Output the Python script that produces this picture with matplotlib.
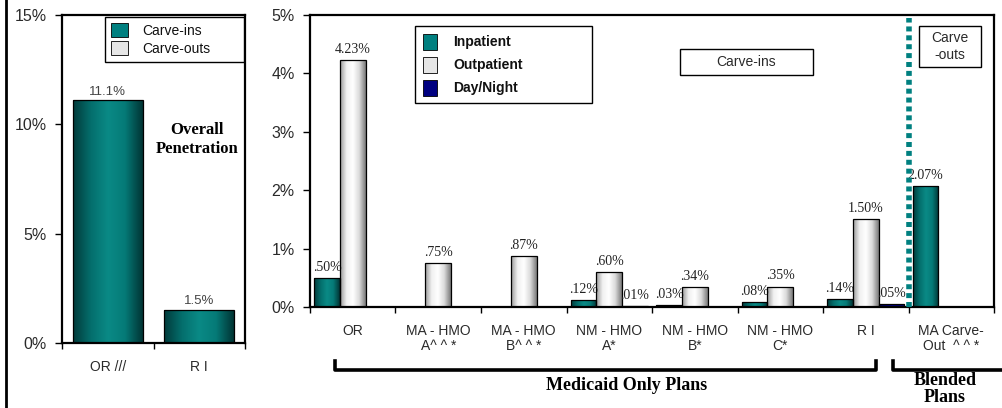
import numpy as np
import matplotlib
matplotlib.use("Agg")
from matplotlib import pyplot as plt
from matplotlib.colors import LinearSegmentedColormap
from matplotlib.patches import Patch, Rectangle
from matplotlib.lines import Line2D

# ---- data ----
overall_cats = ["OR ///", "R I"]
overall_vals = [11.1, 1.5]

plan_cats = ["OR", "MA - HMO\nA^ ^ *", "MA - HMO\nB^ ^ *", "NM - HMO\nA*",
             "NM - HMO\nB*", "NM - HMO\nC*", "R I", "MA Carve-\nOut  ^ ^ *"]
inpatient = [0.50, 0, 0, 0.12, 0.03, 0.08, 0.14, 2.07]
outpatient = [4.23, 0.75, 0.87, 0.60, 0.34, 0.35, 1.50, 0]
daynight = [0, 0, 0, 0.01, 0, 0, 0.05, 0]

SANS = "Liberation Sans"
SERIF = "Liberation Serif"
TXT = "#2a2a2a"

teal_cm = LinearSegmentedColormap.from_list(
    "teal", ["#013c3c", "#046e6c", "#0a8a86", "#057a77", "#013535"])
white_cm = LinearSegmentedColormap.from_list(
    "white", ["#9a9a9a", "#f0f0f0", "#ffffff", "#dadada", "#7a7a7a"])
navy_cm = LinearSegmentedColormap.from_list(
    "navy", ["#00004a", "#000090", "#00006a"])
grad = np.linspace(0, 1, 64).reshape(1, -1)


def shaded_bars(ax, x, vals, width, cmap, face):
    bars = ax.bar(x, vals, width, color=face, zorder=2)
    for b in bars:
        if b.get_height() <= 0:
            continue
        x0, y0, w, h = b.get_x(), b.get_y(), b.get_width(), b.get_height()
        im = ax.imshow(grad, extent=(x0, x0 + w, y0, y0 + h), cmap=cmap,
                       aspect="auto", origin="lower", zorder=2.5)
        im.set_clip_path(b)
        ax.add_patch(Rectangle((x0, y0), w, h, fill=False, ec="black",
                               lw=0.9, zorder=3))
    return bars


def fmt_plan(v):
    s = "%.2f%%" % v
    return s[1:] if s.startswith("0.") else s


def style_axes(ax, ncat):
    for sp in ax.spines.values():
        sp.set_linewidth(1.6)
        sp.set_color("black")
    ax.set_xlim(-0.5, ncat - 0.5)
    ax.set_xticks(np.arange(ncat))
    ax.set_xticks(np.arange(ncat + 1) - 0.5, minor=True)
    ax.tick_params(axis="x", which="major", length=0, pad=12)
    ax.tick_params(axis="x", which="minor", length=4, width=1, direction="out")
    ax.tick_params(axis="y", length=5, width=1, direction="out",
                   labelsize=11.5, labelcolor=TXT, pad=6)


def fx(px):
    return px / 1003


def fy(py):
    return 1 - py / 408


fig = plt.figure(figsize=(10.03, 4.08), dpi=100)

# ---- left panel: overall penetration ----
axl = fig.add_axes([62 / 1003, 1 - 343 / 408, 183 / 1003, 328 / 408])
xl = np.arange(len(overall_cats))
shaded_bars(axl, xl, overall_vals, 0.76, teal_cm, "#008080")
for xi, v in zip(xl, overall_vals):
    axl.annotate("%.1f%%" % v, (xi, v), xytext=(0, 2), textcoords="offset points",
                 ha="center", va="bottom", fontsize=9.5, family=SANS, color="#444444")
style_axes(axl, len(overall_cats))
axl.set_ylim(0, 15)
axl.set_yticks([0, 5, 10, 15])
axl.set_yticklabels(["0%", "5%", "10%", "15%"], family=SANS)
axl.set_xticklabels(overall_cats, family=SANS, fontsize=10, color=TXT)
axl.text(0.74, 0.62, "Overall\nPenetration", transform=axl.transAxes, ha="center",
         va="center", family=SERIF, fontweight="bold", fontsize=12, linespacing=1.2)
lg = axl.legend(handles=[Patch(fc="#008080", ec="black", lw=0.6, label="Carve-ins"),
                         Patch(fc="#e6e6e6", ec="black", lw=0.6, label="Carve-outs")],
                loc="upper left", bbox_to_anchor=(0.235, 0.86, 0.76, 0.135),
                mode="expand", fancybox=False,
                edgecolor="black", framealpha=1, prop={"family": SANS, "size": 10},
                handlelength=1.2, handleheight=1.2, borderpad=0.45, labelspacing=0.25,
                handletextpad=1.0, borderaxespad=0)
lg.get_frame().set_linewidth(1.0)
for t in lg.get_texts():
    t.set_color("#111111")

# ---- right panel: plans ----
axr = fig.add_axes([310 / 1003, 1 - 307 / 408, 684 / 1003, 292 / 408])
xr = np.arange(len(plan_cats))
w = 0.3
series = [(inpatient, -w, teal_cm, "#008080"),
          (outpatient, 0, white_cm, "#eeeeee"),
          (daynight, w, navy_cm, "#000080")]
for vals, off, cm, face in series:
    shaded_bars(axr, xr + off, vals, w, cm, face)
    for xi, v in zip(xr, vals):
        if v > 0:
            axr.annotate(fmt_plan(v), (xi + off, v), xytext=(0, 3),
                         textcoords="offset points", ha="center", va="bottom",
                         fontsize=10, family=SERIF, color="#222222")
style_axes(axr, len(plan_cats))
axr.set_ylim(0, 5)
axr.set_yticks([0, 1, 2, 3, 4, 5])
axr.set_yticklabels(["0%", "1%", "2%", "3%", "4%", "5%"], family=SANS)
axr.set_xticklabels(plan_cats, family=SANS, fontsize=10, color=TXT, linespacing=1.15)
axr.axvline(len(plan_cats) - 1.5, ymin=0, ymax=0.99, color="#008080", lw=4,
            linestyle=(0, (0.9, 0.7)), zorder=4)

leg = axr.legend(handles=[Patch(fc="#008080", ec="black", lw=0.6, label="Inpatient"),
                          Patch(fc="#e6e6e6", ec="black", lw=0.6, label="Outpatient"),
                          Patch(fc="#000080", ec="black", lw=0.6, label="Day/Night")],
                 loc="upper left", bbox_to_anchor=(0.154, 0.702, 0.258, 0.26),
                 mode="expand", fancybox=False,
                 edgecolor="black", framealpha=1,
                 prop={"family": SANS, "size": 10, "weight": "bold"},
                 handlelength=1.0, handleheight=1.4, borderpad=0.55, labelspacing=0.5,
                 handletextpad=1.2, borderaxespad=0)
leg.get_frame().set_linewidth(1.0)
for t in leg.get_texts():
    t.set_color("#111111")

# annotation boxes
fig.add_artist(Rectangle((fx(680), fy(75)), fx(813) - fx(680), fy(49) - fy(75),
                         transform=fig.transFigure, fill=True, fc="white",
                         ec="black", lw=1.0, zorder=5))
fig.text(fx(746), fy(62), "Carve-ins", ha="center", va="center", family=SANS,
         fontsize=10, color=TXT, zorder=6)
fig.add_artist(Rectangle((fx(919), fy(67)), fx(981) - fx(919), fy(26) - fy(67),
                         transform=fig.transFigure, fill=True, fc="white",
                         ec="black", lw=1.0, zorder=5))
fig.text(fx(950), fy(46.5), "Carve\n-outs", ha="center", va="center", family=SANS,
         fontsize=10, color=TXT, linespacing=1.25, zorder=6)

# ---- group brackets ----
fig.add_artist(Line2D([fx(335), fx(335), fx(876), fx(876)],
                      [fy(361), fy(370), fy(370), fy(361)], color="black", lw=2.6))
fig.add_artist(Line2D([fx(893), fx(893), fx(1003)],
                      [fy(361), fy(370), fy(370)], color="black", lw=2.6))
fig.text(fx(627), fy(386), "Medicaid Only Plans", ha="center", va="center",
         family=SERIF, fontweight="bold", fontsize=13)
fig.text(fx(945), fy(389), "Blended\nPlans", ha="center", va="center",
         family=SERIF, fontweight="bold", fontsize=13, linespacing=1.05)

# left border line
fig.add_artist(Line2D([fx(6), fx(6)], [0, 1], color="black", lw=2))

fig.savefig("out.png", dpi=100)
